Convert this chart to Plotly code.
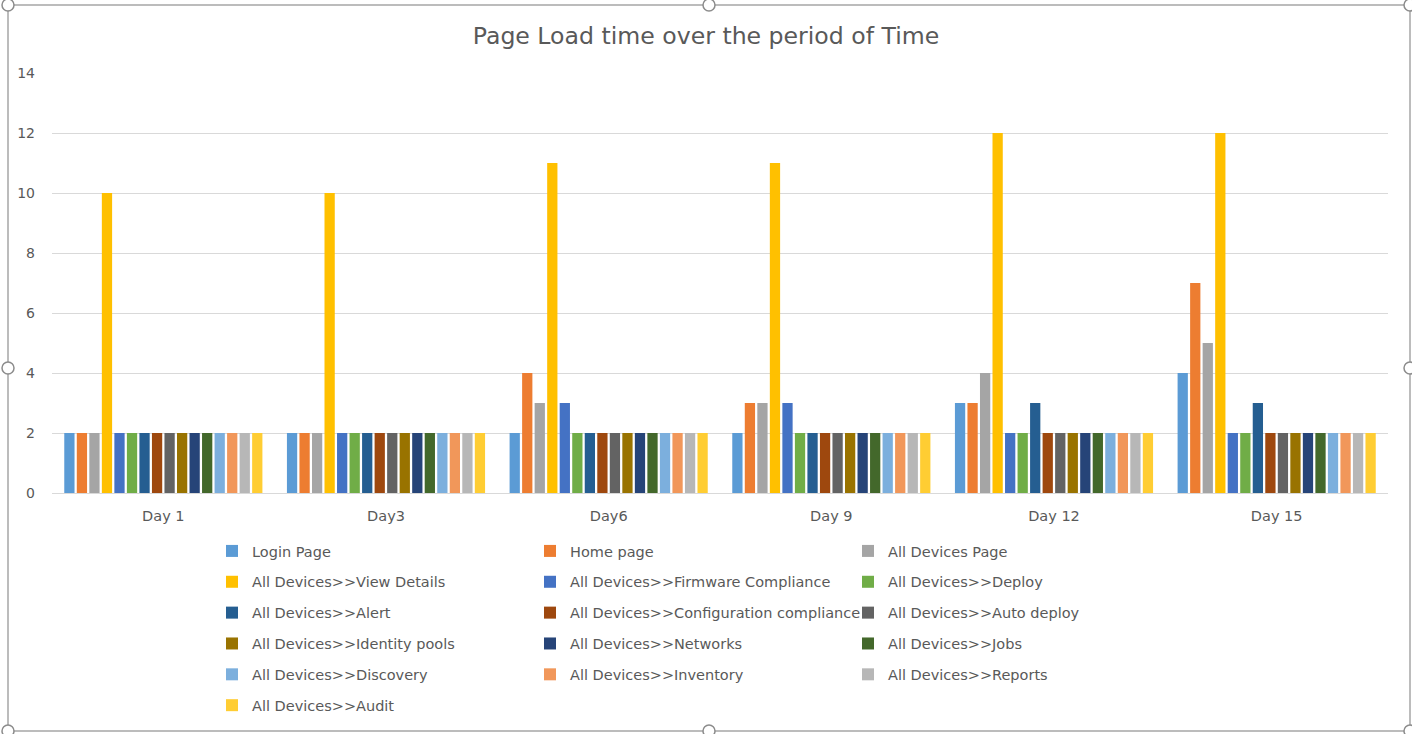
import plotly.graph_objects as go

categories = ["Day 1", "Day3", "Day6", "Day 9", "Day 12", "Day 15"]

series_names = [
    "Login Page",
    "Home page",
    "All Devices Page",
    "All Devices>>View Details",
    "All Devices>>Firmware Compliance",
    "All Devices>>Deploy",
    "All Devices>>Alert",
    "All Devices>>Configuration compliance",
    "All Devices>>Auto deploy",
    "All Devices>>Identity pools",
    "All Devices>>Networks",
    "All Devices>>Jobs",
    "All Devices>>Discovery",
    "All Devices>>Inventory",
    "All Devices>>Reports",
    "All Devices>>Audit",
]

login_page = [2, 2, 2, 2, 3, 4]
home_page = [2, 2, 4, 3, 3, 7]
all_devices_page = [2, 2, 3, 3, 4, 5]
view_details = [10, 10, 11, 11, 12, 12]
firmware_compliance = [2, 2, 3, 3, 2, 2]
deploy = [2, 2, 2, 2, 2, 2]
alert = [2, 2, 2, 2, 3, 3]
configuration_compliance = [2, 2, 2, 2, 2, 2]
auto_deploy = [2, 2, 2, 2, 2, 2]
identity_pools = [2, 2, 2, 2, 2, 2]
networks = [2, 2, 2, 2, 2, 2]
jobs = [2, 2, 2, 2, 2, 2]
discovery = [2, 2, 2, 2, 2, 2]
inventory = [2, 2, 2, 2, 2, 2]
reports = [2, 2, 2, 2, 2, 2]
audit = [2, 2, 2, 2, 2, 2]

series_values = [
    login_page, home_page, all_devices_page, view_details, firmware_compliance,
    deploy, alert, configuration_compliance, auto_deploy, identity_pools,
    networks, jobs, discovery, inventory, reports, audit,
]

colors = [
    "#5B9BD5", "#ED7D31", "#A5A5A5", "#FFC000", "#4472C4", "#70AD47",
    "#255E91", "#9E480E", "#636363", "#997300", "#264478", "#43682B",
    "#7CAFDD", "#F1975A", "#B7B7B7", "#FFCD33",
]

y_ticks = [0, 2, 4, 6, 8, 10, 12, 14]

FONT = "DejaVu Sans"
TXT = "#595959"

W, H = 1412, 734
L, R, T, B = 52, 24, 73, 241
PW = W - L - R
PH = H - T - B


def px_x(px):
    return (px - L) / PW


def px_y(py):
    return (H - B - py) / PH


fig = go.Figure()
legend_ids = ["legend", "legend2", "legend3"]
for i, (name, vals) in enumerate(zip(series_names, series_values)):
    fig.add_trace(go.Bar(
        name=name,
        x=categories,
        y=vals,
        marker=dict(color=colors[i], line=dict(width=0)),
        legend=legend_ids[i % 3],
        legendgroup="g%d" % i,
    ))

legend_common = dict(
    orientation="v",
    font=dict(family=FONT, size=14.5, color=TXT),
    traceorder="grouped",
    tracegroupgap=9,
    bgcolor="rgba(0,0,0,0)",
    xanchor="left",
    yanchor="top",
    y=px_y(535),
)

# frame and handles
shapes = [dict(
    type="rect", xref="paper", yref="paper",
    x0=px_x(8), x1=px_x(1410), y0=px_y(731), y1=px_y(5),
    line=dict(color="#A6A6A6", width=1.5), fillcolor="rgba(0,0,0,0)", layer="below",
)]
handle_pts = [(8, 5), (709, 5), (1410, 5), (8, 368), (1410, 368),
              (8, 731), (709, 731), (1410, 731)]
r = 6
for (hx, hy) in handle_pts:
    shapes.append(dict(
        type="circle", xref="paper", yref="paper",
        x0=px_x(hx - r), x1=px_x(hx + r), y0=px_y(hy + r), y1=px_y(hy - r),
        line=dict(color="#8C8C8C", width=1.5), fillcolor="white", layer="above",
    ))

fig.update_layout(
    width=W, height=H,
    margin=dict(l=L, r=R, t=T, b=B, autoexpand=False),
    paper_bgcolor="white",
    plot_bgcolor="white",
    barmode="group",
    bargap=0.1,
    bargroupgap=0.18,
    title=dict(
        text="Page Load time over the period of Time",
        font=dict(family=FONT, size=23.6, color=TXT),
        x=0.5, xanchor="center",
        y=1 - 36 / H, yanchor="middle", yref="container",
    ),
    font=dict(family=FONT, color=TXT),
    xaxis=dict(
        showgrid=False,
        showline=True, linecolor="#D9D9D9", linewidth=1,
        ticks="", tickfont=dict(family=FONT, size=14.5, color=TXT),
        ticklabelstandoff=10,
    ),
    yaxis=dict(
        range=[0, 14],
        tickvals=y_ticks,
        showgrid=True, gridcolor="#D9D9D9", gridwidth=1,
        zeroline=False, showline=False,
        ticks="", tickfont=dict(family=FONT, size=14, color=TXT),
        ticklabelstandoff=16,
    ),
    legend=dict(legend_common, x=px_x(212)),
    legend2=dict(legend_common, x=px_x(530)),
    legend3=dict(legend_common, x=px_x(848)),
    shapes=shapes,
)

fig.write_html(
    "out.html",
    config={"displayModeBar": False},
    post_script="document.body.style.margin='0px';",
)
